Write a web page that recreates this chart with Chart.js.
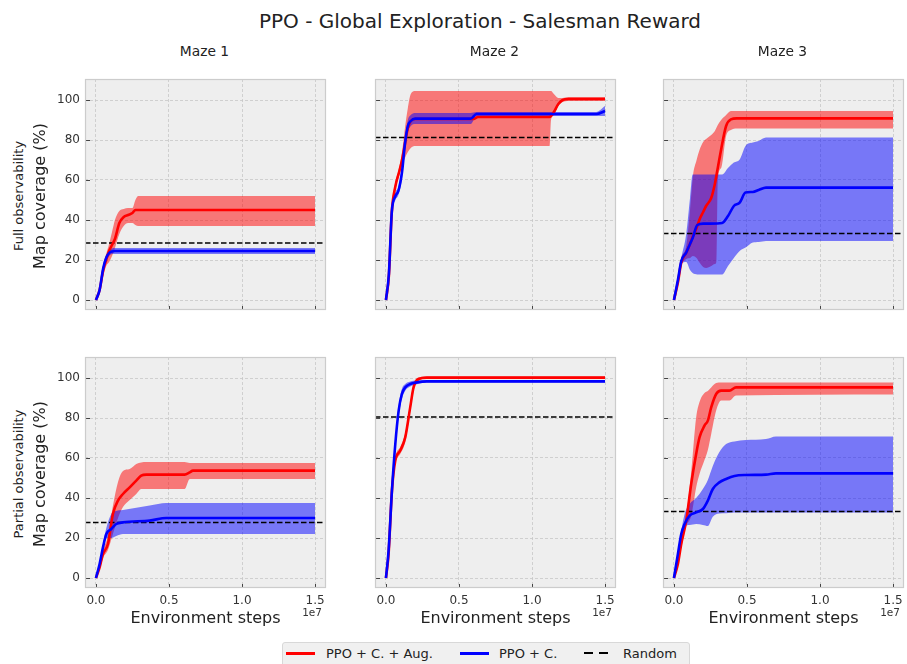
<!DOCTYPE html>
<html>
<head>
<meta charset="utf-8">
<script src="https://cdn.jsdelivr.net/npm/chart.js@4.4.1/dist/chart.umd.min.js"></script>
<style>
  body { margin: 0; width: 907px; height: 664px; overflow: hidden; background: #fff;
         font-family: "DejaVu Sans", sans-serif; color: #222; position: relative; }
  .txt { position: absolute; white-space: nowrap; transform: translate(-50%, -50%); line-height: 1; }
  .rot { transform: translate(-50%, -50%) rotate(-90deg); }
  #legend { position: absolute; left: 282px; top: 642px; width: 408px; height: 28px; box-sizing: border-box;
            background: #f0f0f0; border: 1px solid #d8d8d8; border-radius: 3px; }
  #legend span { position: absolute; top: 4px; font-size: 13px; line-height: 1; color: #222; }
  #legend i { position: absolute; top: 9px; }
</style>
</head>
<body>
<script>
// ---- data (x in units of 1e7 environment steps, y = map coverage %) ----
const colTitles = ['Maze 1', 'Maze 2', 'Maze 3'];
const rowTitles = ['Full observability', 'Partial observability'];
const seriesNames = ['PPO + C. + Aug.', 'PPO + C.', 'Random'];
const xTicks = [0, 0.5, 1.0, 1.5];
const yTicks = [0, 20, 40, 60, 80, 100];
const randomFull = [28.5, 81.2, 33.2];
const randomPartial = [27.8, 80.5, 33.3];

// Maze 1, full observability
const f1RedX  = [0, 0.025, 0.05, 0.07, 0.09, 0.11, 0.13, 0.16, 0.19, 0.22, 0.25, 0.27, 0.29, 1.5];
const f1Red   = [0, 5, 15, 20, 24.5, 27.5, 30.5, 38.5, 41.5, 42.5, 43.5, 45, 45, 45];
const f1RedLo = [0, 4, 12, 17, 19, 22, 26, 33, 37, 38.5, 38.5, 37.5, 37, 37];
const f1RedHi = [0, 6, 18, 23, 28, 34, 40, 44.5, 45.5, 46, 46, 50, 52, 52];
const f1BlueX  = [0, 0.025, 0.05, 0.07, 0.09, 0.11, 0.13, 1.5];
const f1Blue   = [0, 5, 16, 21, 23.5, 24.3, 24.5, 24.5];
const f1BlueLo = [0, 4, 14.5, 19.5, 22, 23, 23, 23];
const f1BlueHi = [0, 6, 17.5, 22.5, 25, 25.8, 26, 26];

// Maze 2, full observability
const f2RedX  = [0, 0.02, 0.04, 0.065, 0.09, 0.11, 0.13, 0.15, 0.17, 0.2, 0.6, 0.63, 1.12, 1.13, 1.15, 1.18, 1.21, 1.25, 1.5];
const f2Red   = [0, 12, 44, 57, 64, 70, 78, 86, 89.5, 90.5, 90.5, 91.5, 91.5, 92, 94, 98, 100, 100.5, 100.5];
const f2RedLo = [0, 10, 42, 55, 62, 67, 71, 74, 76, 77, 77, 77, 77, 90, 92.5, 97, 99, 99.5, 99.5];
const f2RedHi = [0, 14, 46, 59, 66, 74, 86, 96, 103, 104.5, 104.5, 104.5, 104.5, 104.5, 103, 101, 101, 101.5, 101.5];
const f2BlueX  = [0, 0.02, 0.04, 0.065, 0.085, 0.11, 0.13, 0.15, 0.17, 0.2, 0.58, 0.62, 1.44, 1.5];
const f2Blue   = [0, 13, 44, 52, 54.5, 64, 78, 87, 89.5, 90.7, 90.7, 93, 93, 94.5];
const f2BlueLo = [0, 11, 42, 50, 52.5, 61, 75, 84, 87, 88, 88, 92, 92, 92];
const f2BlueHi = [0, 15, 46, 54, 56.5, 67, 81, 90, 92.5, 93.5, 93.5, 94, 94, 97];

// Maze 3, full observability
const f3RedX  = [0, 0.027, 0.05, 0.084, 0.11, 0.13, 0.155, 0.175, 0.2, 0.22, 0.255, 0.28, 0.29, 0.3, 0.323, 0.357, 0.39, 0.43, 1.5];
const f3Red   = [0, 8.7, 18.7, 23.7, 28, 32, 36, 40.3, 44, 47, 51, 58, 62, 66, 75.3, 87, 90.3, 90.8, 90.8];
const f3RedLo = [0, 7.5, 17, 20.5, 21, 22, 21, 18.7, 16.5, 16, 17, 18, 19, 60, 66, 82, 85, 85.8, 85.8];
const f3RedHi = [0, 10, 21, 27, 45, 62, 70, 75, 79, 80.5, 82.5, 84.5, 86, 87.5, 90, 92.5, 94.5, 94.5, 94.5];
const f3BlueX  = [0, 0.027, 0.05, 0.084, 0.11, 0.128, 0.16, 0.2, 0.25, 0.33, 0.37, 0.41, 0.45, 0.49, 0.54, 0.58, 0.63, 1.5];
const f3Blue   = [0, 10, 19.5, 23.7, 28, 31, 37.5, 38.2, 38.2, 38.5, 42, 47, 48.7, 53.7, 54, 55, 56.2, 56.2];
const f3BlueLo = [0, 9, 18, 19, 15, 13.5, 12.8, 12.8, 12.8, 12.8, 17, 21, 24.5, 26.2, 28.7, 29, 29.5, 29.5];
const f3BlueHi = [0, 11, 21, 33, 51, 62.8, 62.8, 62.8, 62.8, 62.8, 66, 68.7, 70.3, 77, 78.7, 79.5, 81.2, 81.2];

// Maze 1, partial observability
const p1RedX  = [0, 0.025, 0.048, 0.082, 0.116, 0.151, 0.185, 0.231, 0.276, 0.31, 0.345, 0.607, 0.642, 0.664, 1.5];
const p1Red   = [0, 5.3, 12, 17, 32, 38.7, 42, 45.3, 48.7, 51.2, 51.7, 51.7, 52.8, 53.7, 53.7];
const p1RedLo = [0, 4, 10, 14, 22, 30, 35.5, 39, 42, 44.5, 44.5, 44.5, 49.5, 49.5, 49.5];
const p1RedHi = [0, 6.5, 14, 21, 36, 48, 53.5, 54.5, 57, 57.8, 58, 58, 57.5, 57.5, 57.5];
const p1BlueX  = [0, 0.025, 0.048, 0.071, 0.105, 0.139, 0.185, 0.368, 0.482, 1.5];
const p1Blue   = [0, 7, 15.3, 22, 24.5, 27, 27.8, 28.7, 30, 30];
const p1BlueLo = [0, 6, 13.5, 20, 20, 21, 22, 22, 22, 22];
const p1BlueHi = [0, 8, 17, 25, 32, 33.5, 34, 36.2, 37.5, 37.5];

// Maze 2, partial observability
const p2RedX  = [0, 0.018, 0.041, 0.064, 0.098, 0.132, 0.166, 0.189, 0.223, 0.28, 1.5];
const p2Red   = [0, 12, 43.7, 58.7, 63.7, 70.3, 85.3, 95.3, 99.5, 100.2, 100.2];
const p2RedLo = [0, 10.5, 42, 57, 62, 68, 83, 93.5, 98.7, 99.6, 99.6];
const p2RedHi = [0, 13.5, 45.5, 60.5, 65.5, 72.5, 87.5, 97, 100.3, 100.8, 100.8];
const p2BlueX  = [0, 0.018, 0.041, 0.064, 0.087, 0.109, 0.132, 0.166, 0.212, 0.28, 1.5];
const p2Blue   = [0, 13.7, 43.7, 67, 83.7, 92, 95.3, 97, 97.8, 98.3, 98.3];
const p2BlueLo = [0, 12.4, 42, 64.5, 81, 89.5, 93.6, 95.7, 96.9, 97.7, 97.7];
const p2BlueHi = [0, 15, 45.5, 69.5, 86.5, 94.5, 97, 98.3, 98.7, 98.9, 98.9];

// Maze 3, partial observability
const p3RedX  = [0, 0.027, 0.05, 0.084, 0.118, 0.152, 0.175, 0.209, 0.232, 0.255, 0.289, 0.323, 0.38, 0.425, 1.5];
const p3Red   = [0, 7, 17, 28.7, 47, 62, 70.3, 76.2, 78.7, 85.3, 92, 93.7, 93.7, 95.3, 95.3];
const p3RedLo = [0, 6, 15, 26, 31, 45.3, 52, 59, 64, 72, 83.7, 88.7, 88.7, 91.2, 91.7];
const p3RedHi = [0, 8, 19, 31, 53, 80.3, 88, 92.5, 93.5, 95.3, 97.5, 97.8, 97.8, 97.8, 97.8];
const p3BlueX  = [0, 0.027, 0.05, 0.073, 0.107, 0.152, 0.198, 0.232, 0.266, 0.311, 0.357, 0.414, 0.493, 0.63, 0.698, 1.5];
const p3Blue   = [0, 12, 22, 27, 31.2, 32.8, 34.5, 38.7, 44.5, 47.8, 49.5, 51, 51.5, 51.7, 52.3, 52.3];
const p3BlueLo = [0, 11, 20.5, 26, 26.5, 27, 26.5, 26, 30.6, 32.2, 32.4, 32.8, 32.8, 32.8, 32.8, 32.8];
const p3BlueHi = [0, 13, 23.5, 32, 37, 40, 44.5, 49, 56, 63, 67, 68.3, 69, 69.5, 70.8, 70.8];

// ---- layout ----
const X_MIN = -0.075, X_MAX = 1.575, Y_MIN = -5, Y_MAX = 110.5;
const PLOT_W = 241, PLOT_H = 231;
const colLeft = [85, 375, 663];
const rowTop = [79, 357];
const PADL = 50, PADT = 16, PADR = 14, PADB = 30;
Chart.defaults.font.family = "'DejaVu Sans', sans-serif";

const panels = [
  { row: 0, col: 0, red: [f1RedX, f1Red, f1RedLo, f1RedHi], blue: [f1BlueX, f1Blue, f1BlueLo, f1BlueHi], random: randomFull[0] },
  { row: 0, col: 1, red: [f2RedX, f2Red, f2RedLo, f2RedHi], blue: [f2BlueX, f2Blue, f2BlueLo, f2BlueHi], random: randomFull[1] },
  { row: 0, col: 2, red: [f3RedX, f3Red, f3RedLo, f3RedHi], blue: [f3BlueX, f3Blue, f3BlueLo, f3BlueHi], random: randomFull[2] },
  { row: 1, col: 0, red: [p1RedX, p1Red, p1RedLo, p1RedHi], blue: [p1BlueX, p1Blue, p1BlueLo, p1BlueHi], random: randomPartial[0] },
  { row: 1, col: 1, red: [p2RedX, p2Red, p2RedLo, p2RedHi], blue: [p2BlueX, p2Blue, p2BlueLo, p2BlueHi], random: randomPartial[1] },
  { row: 1, col: 2, red: [p3RedX, p3Red, p3RedLo, p3RedHi], blue: [p3BlueX, p3Blue, p3BlueLo, p3BlueHi], random: randomPartial[2] }
];

function pts(xs, ys) { return xs.map((x, i) => ({ x: x, y: ys[i] })); }

// plot background, frame and inward tick marks (matplotlib bmh look)
const axesLook = {
  id: 'axesLook',
  beforeDraw(chart) {
    const a = chart.chartArea, ctx = chart.ctx;
    ctx.save();
    ctx.fillStyle = '#eeeeee';
    ctx.fillRect(a.left, a.top, a.right - a.left, a.bottom - a.top);
    ctx.restore();
  },
  afterDraw(chart) {
    const a = chart.chartArea, ctx = chart.ctx, sx = chart.scales.x, sy = chart.scales.y;
    ctx.save();
    ctx.strokeStyle = '#444';
    ctx.lineWidth = 1;
    ctx.beginPath();
    sx.ticks.forEach(t => {
      const px = Math.round(sx.getPixelForValue(t.value)) + 0.5;
      ctx.moveTo(px, a.bottom); ctx.lineTo(px, a.bottom - 4);
    });
    sy.ticks.forEach(t => {
      const py = Math.round(sy.getPixelForValue(t.value)) + 0.5;
      ctx.moveTo(a.left, py); ctx.lineTo(a.left + 5, py);
    });
    ctx.stroke();
    ctx.strokeStyle = '#cccccc';
    ctx.lineWidth = 1.2;
    ctx.strokeRect(a.left + 0.5, a.top + 0.5, a.right - a.left - 1, a.bottom - a.top - 1);
    ctx.restore();
  }
};

panels.forEach(p => {
  const cv = document.createElement('canvas');
  cv.width = PLOT_W + PADL + PADR;
  cv.height = PLOT_H + PADT + PADB;
  cv.style.cssText = 'position:absolute;left:' + (colLeft[p.col] - PADL) + 'px;top:' + (rowTop[p.row] - PADT) +
    'px;width:' + cv.width + 'px;height:' + cv.height + 'px';
  document.body.appendChild(cv);

  // lower edge (no stroke) + upper edge filled down to it
  const band = (xs, lo, hi, col, order, base) => [
    { data: pts(xs, lo), borderWidth: 0, pointRadius: 0, fill: false, order: order, cubicInterpolationMode: 'monotone', clip: 0 },
    { data: pts(xs, hi), borderWidth: 0, pointRadius: 0, fill: base, backgroundColor: col, order: order, cubicInterpolationMode: 'monotone', clip: 0 }
  ];

  new Chart(cv, {
    type: 'line',
    data: {
      datasets: [
        ...band(p.red[0], p.red[2], p.red[3], 'rgba(255,0,0,0.5)', 4, 0),
        ...band(p.blue[0], p.blue[2], p.blue[3], 'rgba(0,0,255,0.5)', 3, 2),
        { data: [{ x: X_MIN, y: p.random }, { x: X_MAX, y: p.random }], borderColor: '#000', borderWidth: 1.5,
          borderDash: [5.5, 2.5], pointRadius: 0, fill: false, order: 2, clip: 0 },
        { data: pts(p.red[0], p.red[1]), borderColor: '#ff0000', borderWidth: 2.6, pointRadius: 0, fill: false,
          order: 1, cubicInterpolationMode: 'monotone', clip: 0 },
        { data: pts(p.blue[0], p.blue[1]), borderColor: '#0000ff', borderWidth: 2.6, pointRadius: 0, fill: false,
          order: 0, cubicInterpolationMode: 'monotone', clip: 0 }
      ]
    },
    options: {
      responsive: false,
      animation: false,
      events: [],
      layout: { padding: { left: 0, top: PADT, right: PADR, bottom: 0 } },
      plugins: { legend: { display: false }, tooltip: { enabled: false }, filler: { drawTime: 'beforeDatasetsDraw' } },
      scales: {
        x: {
          type: 'linear', min: X_MIN, max: X_MAX,
          afterFit(s) { s.height = PADB; },
          afterBuildTicks(s) { s.ticks = xTicks.map(v => ({ value: v })); },
          grid: { color: '#c6c6c6', lineWidth: 0.8, drawTicks: false },
          border: { display: false, dash: [3, 2] },
          ticks: { display: p.row === 1, padding: 6, color: '#333', font: { size: 12 }, maxRotation: 0,
                   autoSkip: false, callback: v => v.toFixed(1) }
        },
        y: {
          type: 'linear', min: Y_MIN, max: Y_MAX,
          afterFit(s) { s.width = PADL; },
          afterBuildTicks(s) { s.ticks = yTicks.map(v => ({ value: v })); },
          grid: { color: '#c6c6c6', lineWidth: 0.8, drawTicks: false },
          border: { display: false, dash: [3, 2] },
          ticks: { display: p.col === 0, padding: 5, color: '#333', font: { size: 12 } }
        }
      }
    },
    plugins: [axesLook]
  });
});

// ---- text around the grid ----
function addText(str, x, y, size, cls) {
  const d = document.createElement('div');
  d.className = 'txt' + (cls ? ' ' + cls : '');
  d.style.left = x + 'px'; d.style.top = y + 'px'; d.style.fontSize = size + 'px';
  d.textContent = str;
  document.body.appendChild(d);
  return d;
}
addText('PPO - Global Exploration - Salesman Reward', 480, 21, 20);
colTitles.forEach((t, c) => addText(t, colLeft[c] + PLOT_W / 2 - 1, 52, 13.8));
rowTitles.forEach((t, r) => {
  const cy = rowTop[r] + PLOT_H / 2 + 1;
  addText(t, 18, cy, 13, 'rot');
  addText('Map coverage (%)', 40, cy, 16, 'rot');
});
colTitles.forEach((t, c) => {
  addText('Environment steps', colLeft[c] + PLOT_W / 2, 618, 16);
  const o = addText('1e7', 0, 612, 10.5);
  o.style.transform = 'translate(-100%, -50%)';
  o.style.left = (colLeft[c] + PLOT_W - 4) + 'px';
  o.style.color = '#333';
});

// ---- legend ----
const legend = document.createElement('div');
legend.id = 'legend';
const legendStyle = [
  { color: '#ff0000', sx: 3, sw: 29, tx: 43, h: 2.5, dash: false },
  { color: '#0000ff', sx: 177, sw: 29, tx: 216, h: 2.5, dash: false },
  { color: '#000000', sx: 301, sw: 24, tx: 340, h: 2, dash: true }
];
seriesNames.forEach((name, i) => {
  const s = legendStyle[i];
  const line = document.createElement('i');
  line.style.left = s.sx + 'px'; line.style.width = s.sw + 'px'; line.style.height = s.h + 'px';
  line.style.background = s.dash
    ? 'repeating-linear-gradient(to right, ' + s.color + ' 0 9px, transparent 9px 15px)'
    : s.color;
  legend.appendChild(line);
  const lab = document.createElement('span');
  lab.style.left = s.tx + 'px';
  lab.textContent = name;
  legend.appendChild(lab);
});
document.body.appendChild(legend);
</script>
</body>
</html>
